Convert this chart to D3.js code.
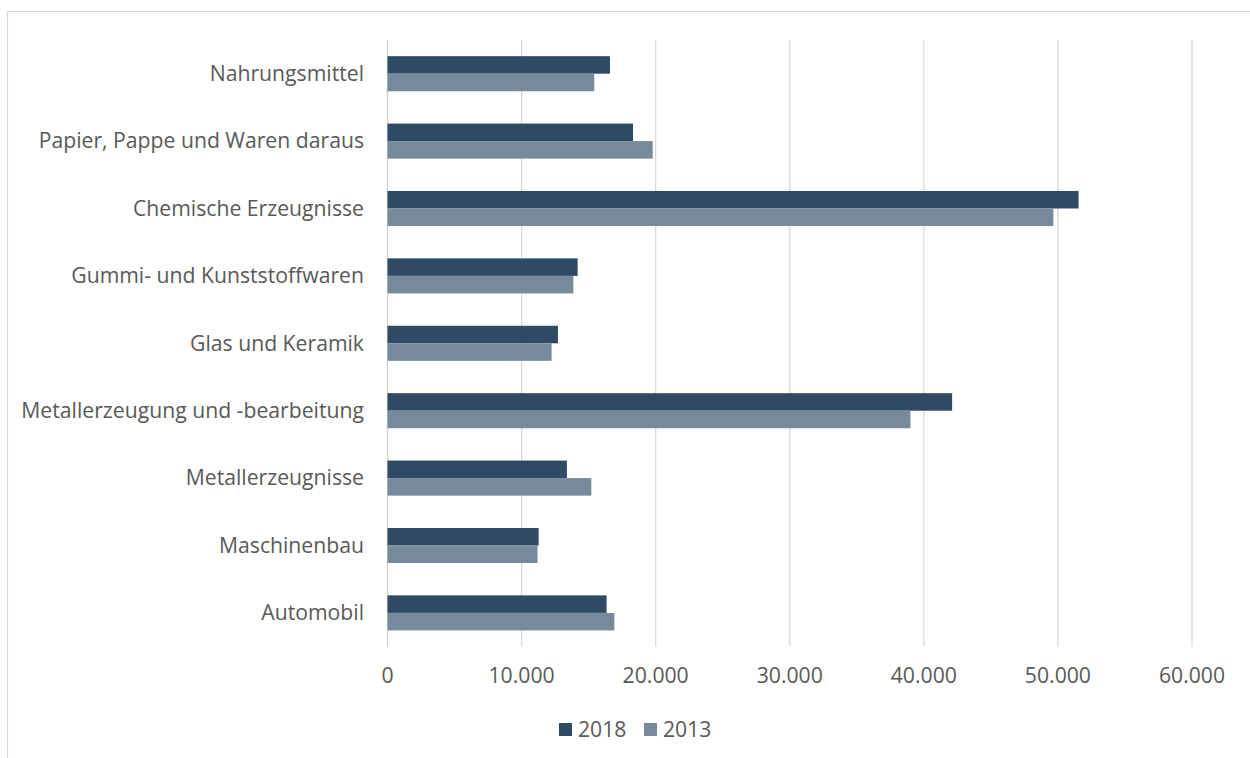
<!DOCTYPE html>
<html>
<head>
<meta charset="utf-8">
<script src="https://cdn.jsdelivr.net/npm/d3@7"></script>
<style>
  html, body { margin: 0; padding: 0; background: #fff; }
  svg { display: block; }
  text { font-family: "Open Sans", "Lato", sans-serif; fill: #595959; }
</style>
</head>
<body>
<svg id="chart" width="1250" height="758"></svg>
<script>
const categories = [
  "Nahrungsmittel",
  "Papier, Pappe und Waren daraus",
  "Chemische Erzeugnisse",
  "Gummi- und Kunststoffwaren",
  "Glas und Keramik",
  "Metallerzeugung und -bearbeitung",
  "Metallerzeugnisse",
  "Maschinenbau",
  "Automobil"
];
const seriesNames = ["2018", "2013"];
const values2018 = [16590, 18310, 51540, 14180, 12710, 42110, 13380, 11270, 16340];
const values2013 = [15420, 19780, 49660, 13860, 12240, 39000, 15200, 11190, 16920];
const tickValues = [0, 10000, 20000, 30000, 40000, 50000, 60000];
const colors = ["#2e4a64", "#768a9c"];

const svg = d3.select("#chart");

// chart-area border
svg.append("rect")
  .attr("x", 7.5).attr("y", 11.5)
  .attr("width", 1300).attr("height", 800)
  .attr("fill", "#fff").attr("stroke", "#d9d9d9").attr("stroke-width", 1.2);

const plot = { left: 387.5, right: 1192, top: 40, bottom: 646.6 };

const x = d3.scaleLinear().domain([0, 60000]).range([plot.left, plot.right]);
const y = d3.scaleBand().domain(categories).range([plot.top, plot.bottom])
  .paddingInner(0.48).paddingOuter(0.24);
const ySub = d3.scaleBand().domain(seriesNames).range([0, y.bandwidth()]);
const color = d3.scaleOrdinal().domain(seriesNames).range(colors);

const locale = d3.formatLocale({ decimal: ",", thousands: ".", grouping: [3], currency: ["", "€"] });
const fmt = locale.format(",d");

const FS = 21.2;

// gridlines
svg.append("g").selectAll("line")
  .data(tickValues.filter(d => d > 0))
  .join("line")
  .attr("x1", d => x(d)).attr("x2", d => x(d))
  .attr("y1", plot.top).attr("y2", plot.bottom)
  .attr("stroke", "#d9d9d9").attr("stroke-width", 1.3);

// y axis line
svg.append("line")
  .attr("x1", x(0)).attr("x2", x(0))
  .attr("y1", plot.top).attr("y2", plot.bottom)
  .attr("stroke", "#d0d0d0").attr("stroke-width", 1.3);

// bars
const data = categories.map((c, i) => ({ cat: c, vals: [
  { s: "2018", v: values2018[i] },
  { s: "2013", v: values2013[i] }
]}));

const groups = svg.append("g").selectAll("g")
  .data(data).join("g")
  .attr("transform", d => `translate(0,${y(d.cat)})`);

groups.selectAll("rect")
  .data(d => d.vals).join("rect")
  .attr("x", x(0))
  .attr("y", d => ySub(d.s))
  .attr("width", d => x(d.v) - x(0))
  .attr("height", ySub.bandwidth())
  .attr("fill", d => color(d.s));

// category labels
svg.append("g").selectAll("text")
  .data(categories).join("text")
  .attr("x", 364)
  .attr("y", d => y(d) + y.bandwidth() / 2)
  .attr("dy", "0.34em")
  .attr("text-anchor", "end")
  .attr("font-size", FS)
  .text(d => d);

// x tick labels
svg.append("g").selectAll("text")
  .data(tickValues).join("text")
  .attr("x", d => x(d))
  .attr("y", 683)
  .attr("text-anchor", "middle")
  .attr("font-size", FS)
  .text(d => fmt(d));

// legend
const legendX = [559, 644];
const lg = svg.append("g").selectAll("g")
  .data(seriesNames).join("g")
  .attr("transform", (d, i) => `translate(${legendX[i]},723)`);
lg.append("rect").attr("width", 13).attr("height", 13).attr("fill", d => color(d));
lg.append("text").attr("x", 19).attr("y", 13.5).attr("font-size", FS).text(d => d);
</script>
</body>
</html>
